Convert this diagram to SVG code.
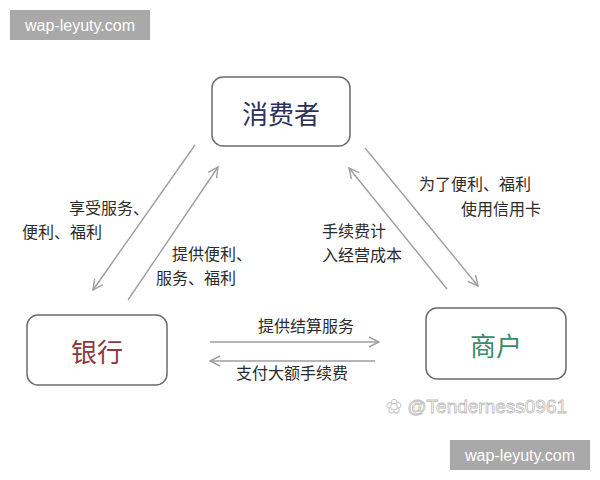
<svg xmlns="http://www.w3.org/2000/svg" width="600" height="480" viewBox="0 0 600 480">
<style>
.box{fill:#fff;stroke:#6b6b6b;stroke-width:1.5}
.node{font-family:"Noto Sans CJK SC","Noto Sans",sans-serif;font-size:26px;text-anchor:middle;dominant-baseline:central}
.lbl{font-family:"Noto Sans CJK SC","Noto Sans",sans-serif;font-size:16px;fill:#2b2b2b;dominant-baseline:central}
.ln{stroke:#9e9e9e;stroke-width:1.4;fill:none;marker-end:url(#ah)}
.tag{fill:#a9a9a9}
.tagt{font-family:"Liberation Sans",Arial,sans-serif;font-size:16px;fill:#fff;text-anchor:middle;dominant-baseline:central}
</style>
<defs>
<marker id="ah" viewBox="0 0 12 12" refX="11" refY="6" markerWidth="12" markerHeight="12" markerUnits="userSpaceOnUse" orient="auto">
<path d="M1,1 L11,6 L1,11" fill="none" stroke="#9e9e9e" stroke-width="1.4"/>
</marker>
</defs>
<rect width="600" height="480" fill="#fff"/>
<g id="tag-top"><rect class="tag" x="10" y="10" width="140" height="30"/><text class="tagt" x="80" y="25">wap-leyuty.com</text></g>
<g id="consumer"><rect class="box" x="212" y="77" width="138" height="69" rx="11"/><text class="node" x="281" y="112" fill="#2c315c">消费者</text></g>
<g id="bank"><rect class="box" x="27" y="315" width="140" height="70" rx="11"/><text class="node" x="97" y="350" fill="#8a3a3e">银行</text></g>
<g id="merchant"><rect class="box" x="426" y="308" width="140" height="71" rx="11"/><text class="node" x="496" y="344" fill="#3d8a6c">商户</text></g>
<g id="connectors">
<line class="ln" x1="195" y1="145" x2="93" y2="290"/>
<line class="ln" x1="128" y1="300" x2="218" y2="167"/>
<line class="ln" x1="365" y1="148" x2="478" y2="286"/>
<line class="ln" x1="447" y1="289" x2="349" y2="168"/>
<line class="ln" x1="210" y1="342" x2="379" y2="342"/>
<line class="ln" x1="375" y1="361" x2="210" y2="361"/>
</g>
<g id="labels">
<text class="lbl" x="69" y="207">享受服务、</text>
<text class="lbl" x="22" y="231">便利、福利</text>
<text class="lbl" x="172" y="253">提供便利、</text>
<text class="lbl" x="156" y="277">服务、福利</text>
<text class="lbl" x="419" y="183">为了便利、福利</text>
<text class="lbl" x="461" y="208">使用信用卡</text>
<text class="lbl" x="322" y="230">手续费计</text>
<text class="lbl" x="322" y="254">入经营成本</text>
<text class="lbl" x="258" y="325">提供结算服务</text>
<text class="lbl" x="236" y="372">支付大额手续费</text>
</g>
<text x="386" y="406" font-family="Liberation Sans,Arial,sans-serif" font-size="19" fill="#fff" stroke="#bdbdbd" stroke-width="0.8" dominant-baseline="central">✿ @Tenderness0961</text>
<g id="tag-bottom"><rect class="tag" x="450" y="440" width="140" height="30"/><text class="tagt" x="520" y="455">wap-leyuty.com</text></g>
</svg>
